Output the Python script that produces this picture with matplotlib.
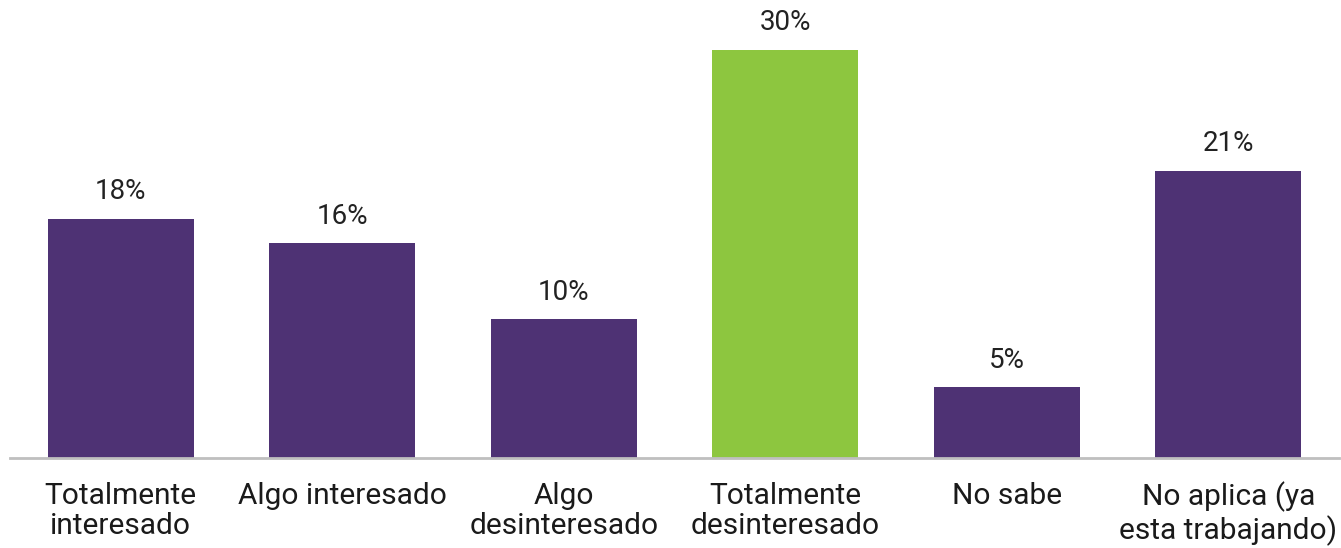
import numpy as np
from matplotlib import pyplot as plt

plt.rcParams['font.family'] = ['Roboto', 'DejaVu Sans']

categorias = ['Totalmente\ninteresado', 'Algo interesado', 'Algo\ndesinteresado',
              'Totalmente\ndesinteresado', 'No sabe', 'No aplica (ya\nesta trabajando)']
valores = [17.6, 15.8, 10.2, 30.0, 5.2, 21.1]
etiquetas = ['18%', '16%', '10%', '30%', '5%', '21%']
colores = ['#4e3274', '#4e3274', '#4e3274', '#8dc63f', '#4e3274', '#4e3274']

fig = plt.figure(figsize=(13.41, 5.48), dpi=100)
ax = fig.add_axes([10/1341, 1-458/548, 1329/1341, 458/548])

x = np.arange(len(categorias))
bars = ax.bar(x, valores, width=0.66, color=colores, zorder=2)
for b, t in zip(bars, etiquetas):
    ax.text(b.get_x() + b.get_width()/2, b.get_height() + 1.0, t,
            ha='center', va='bottom', fontsize=20, color='#222222')

ax.set_xlim(-0.5, len(categorias) - 0.5)
ax.set_ylim(0, 30*458/408)
ax.set_yticks([])
ax.set_xticks(x)
ax.set_xticklabels(categorias, fontsize=21.5, color='#1a1a1a', linespacing=1.13)
ax.tick_params(axis='x', length=0, pad=17)
for s in ['top', 'right', 'left']:
    ax.spines[s].set_visible(False)
ax.spines['bottom'].set_color('#bfbfbf')
ax.spines['bottom'].set_linewidth(2)

fig.savefig('out.png', dpi=100)
